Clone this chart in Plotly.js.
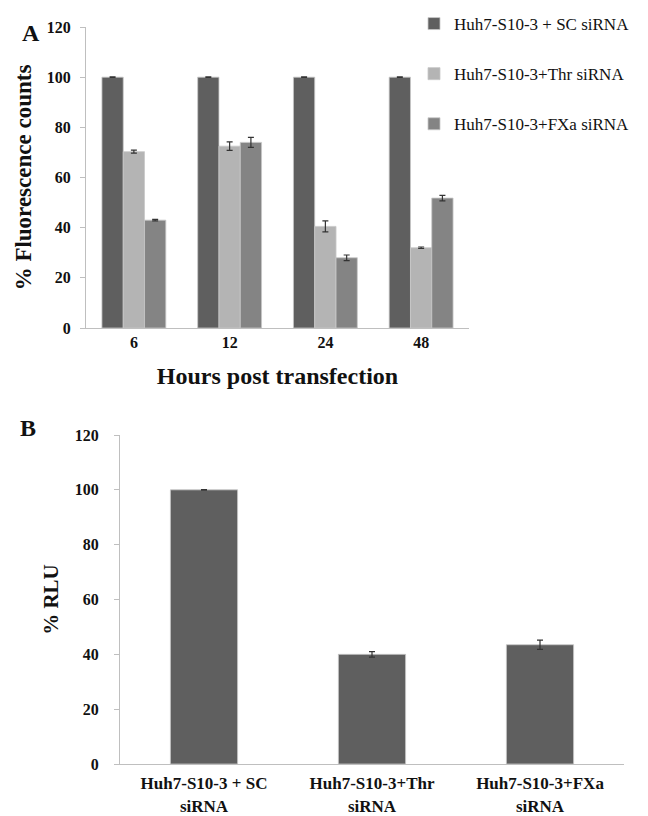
<!DOCTYPE html>
<html>
<head>
<meta charset="utf-8">
<script src="https://cdn.plot.ly/plotly-3.0.1.min.js"></script>
<style>html,body{margin:0;padding:0;background:#fff;}#chart{width:648px;height:816px;}</style>
</head>
<body>
<div id="chart"></div>
<script>
// Panel A data
const hours = ["6", "12", "24", "48"];
const seriesNames = ["Huh7-S10-3 + SC siRNA", "Huh7-S10-3+Thr siRNA", "Huh7-S10-3+FXa siRNA"];
const scValues = [100, 100, 100, 100];
const scErrors = [0.1, 0.1, 0.1, 0.1];
const thrValues = [70.3, 72.5, 40.5, 32.0];
const thrErrors = [0.6, 1.7, 2.2, 0.3];
const fxaValues = [43.0, 74.0, 28.0, 51.8];
const fxaErrors = [0.3, 2.0, 1.1, 1.1];

// Panel B data
const bCategories = ["Huh7-S10-3 + SC<br>siRNA", "Huh7-S10-3+Thr<br>siRNA", "Huh7-S10-3+FXa<br>siRNA"];
const rluValues = [100, 40.0, 43.5];
const rluErrors = [0.1, 1.0, 1.7];

const FONT = "'Liberation Serif', serif";
const colors = ["#5f5f5f", "#b4b4b4", "#848484"];
const errStyle = (arr) => ({type: "data", array: arr, visible: true, color: "#333333", thickness: 1.2, width: 3});

function barTrace(name, x, y, err, color, group) {
  return {
    type: "bar", name: name, x: x, y: y,
    error_y: errStyle(err),
    marker: {color: color, line: {color: "#c8c8c8", width: 0.8}},
    legendgroup: group, xaxis: "x", yaxis: "y"
  };
}

const data = [
  barTrace(seriesNames[0], hours, scValues, scErrors, colors[0], "g1"),
  barTrace(seriesNames[1], hours, thrValues, thrErrors, colors[1], "g2"),
  barTrace(seriesNames[2], hours, fxaValues, fxaErrors, colors[2], "g3"),
  {
    type: "bar", x: bCategories, y: rluValues, width: 0.4,
    error_y: errStyle(rluErrors),
    marker: {color: colors[0], line: {color: "#c8c8c8", width: 0.8}},
    showlegend: false, xaxis: "x2", yaxis: "y2"
  }
];

const W = 648, H = 816;
const px = v => v / W, py = v => 1 - v / H;

const layout = {
  width: W, height: H,
  margin: {l: 0, r: 0, t: 0, b: 0},
  paper_bgcolor: "#ffffff", plot_bgcolor: "#ffffff",
  barmode: "group", bargap: 0.333, bargroupgap: 0,
  font: {family: FONT, color: "#111111"},
  showlegend: true,
  legend: {
    x: px(414), y: py(6), xanchor: "left", yanchor: "top",
    font: {family: FONT, size: 17, color: "#111111"},
    tracegroupgap: 25, bgcolor: "rgba(0,0,0,0)"
  },
  xaxis: {
    domain: [px(86), px(469)], anchor: "y",
    type: "category",
    showline: true, linecolor: "#bfbfbf", linewidth: 1,
    ticks: "", showgrid: false, zeroline: false,
    tickfont: {family: FONT, size: 16, weight: "bold", color: "#111"},
    title: {text: "Hours post transfection", font: {family: FONT, size: 24, weight: "bold", color: "#111"}, standoff: 16}
  },
  yaxis: {
    domain: [py(328), py(27)], anchor: "x",
    range: [0, 120], dtick: 20,
    showline: true, linecolor: "#bfbfbf", linewidth: 1,
    ticks: "outside", ticklen: 5, tickcolor: "#bfbfbf",
    showgrid: false, zeroline: false,
    tickfont: {family: FONT, size: 16, weight: "bold", color: "#111"},
    ticklabelstandoff: 6,
    title: {text: "% Fluorescence counts", font: {family: FONT, size: 23, weight: "bold", color: "#111"}, standoff: 8}
  },
  xaxis2: {
    domain: [px(120), px(624)], anchor: "y2",
    type: "category",
    showline: true, linecolor: "#bfbfbf", linewidth: 1,
    ticks: "", showgrid: false, zeroline: false,
    tickfont: {family: FONT, size: 17, weight: "bold", color: "#111"},
    ticklabelstandoff: 4
  },
  yaxis2: {
    domain: [py(764), py(435)], anchor: "x2",
    range: [0, 120], dtick: 20,
    showline: true, linecolor: "#bfbfbf", linewidth: 1,
    ticks: "outside", ticklen: 5, tickcolor: "#bfbfbf",
    showgrid: false, zeroline: false,
    tickfont: {family: FONT, size: 16, weight: "bold", color: "#111"},
    ticklabelstandoff: 12,
    title: {text: "% RLU", font: {family: FONT, size: 21, weight: "bold", color: "#111"}, standoff: 10}
  },
  annotations: [
    {text: "A", x: px(20), y: py(18), xref: "paper", yref: "paper", showarrow: false,
     font: {family: FONT, size: 24, weight: "bold", color: "#111"}},
    {text: "B", x: px(18), y: py(428), xref: "paper", yref: "paper", showarrow: false,
     font: {family: FONT, size: 24, weight: "bold", color: "#111"}}
  ]
};

Plotly.newPlot("chart", data, layout, {displayModeBar: false, staticPlot: true});
</script>
</body>
</html>
